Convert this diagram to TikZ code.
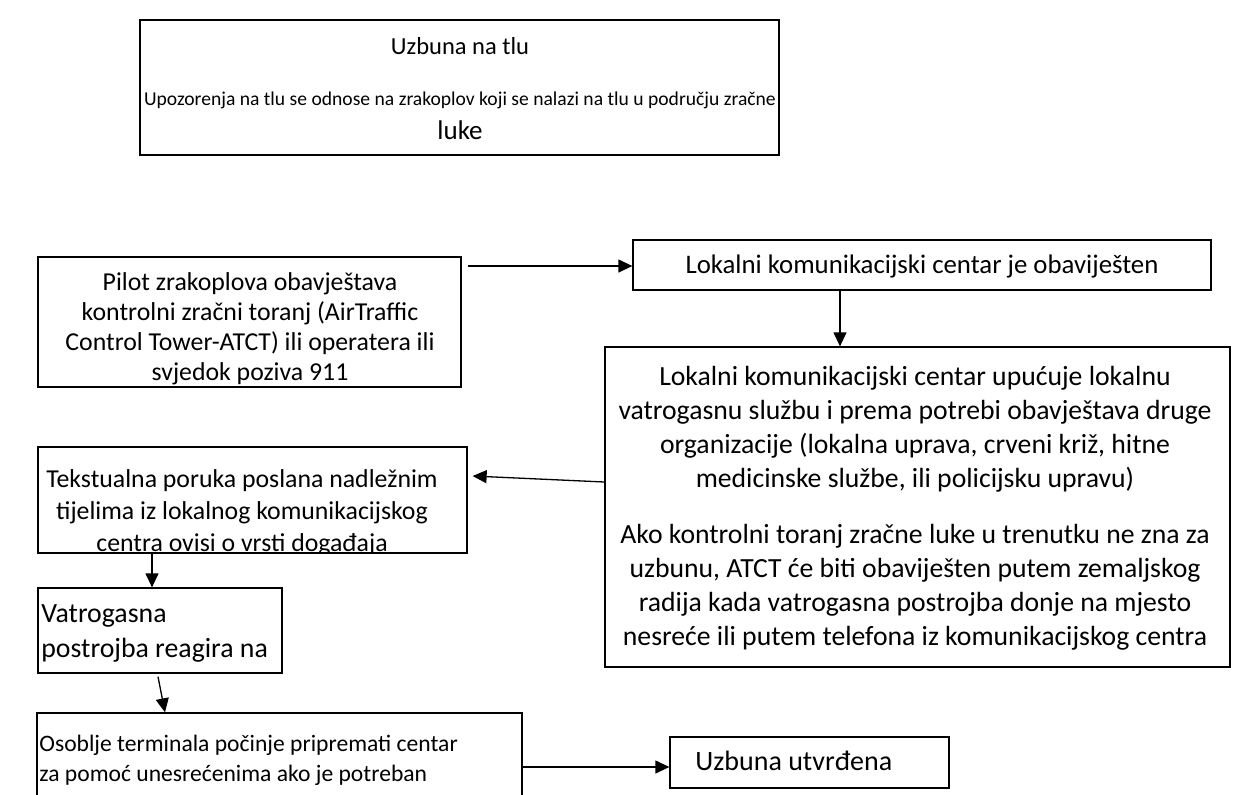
\documentclass[tikz,border=0pt]{standalone}
\usepackage{fontspec}
\setmainfont{Carlito}
\usepackage{tikz}
\usetikzlibrary{arrows.meta,positioning}
\tikzset{
  mybox/.style={draw,line width=0.65pt,inner sep=0pt},
  mytxt/.style={inner sep=0pt,anchor=base,align=center,
    font=\fontsize{12.9}{15}\selectfont},
  mylbl/.style={mytxt,align=left,anchor=base west},
  myarr/.style={line width=0.65pt,-{Triangle[length=7pt,width=6.5pt]}}
}

\begin{document}
\begin{tikzpicture}[x=0.5pt,y=-0.5pt]
  \useasboundingbox (0,0) rectangle (1260,794);
  % boxes
  \node[mybox,minimum width=319.5pt,minimum height=67.5pt] (naslov) at (459.5,87.5) {};
  \node[mybox,minimum width=211.5pt,minimum height=65pt] (pilot) at (249.5,322) {};
  \node[mybox,minimum width=289pt,minimum height=25pt] (lcobav) at (922,265) {};
  \node[mybox,minimum width=312.5pt,minimum height=160pt] (upucuje) at (917.5,507) {};
  \node[mybox,minimum width=214.5pt,minimum height=53pt] (poruka) at (252.5,500) {};
  \node[mybox,minimum width=122pt,minimum height=42.5pt] (vatro) at (160,630.5) {};
  \node[mybox,minimum width=242.5pt,minimum height=58.5pt] (osoblje) at (279.5,771.5) {};
  \node[mybox,minimum width=139.5pt,minimum height=25.5pt] (utvrd) at (809.5,762.5) {};
  % texts (base = last line)
  \node[mytxt,font=\fontsize{12.25}{15}\selectfont] (naslovA) at (460,54) {Uzbuna na tlu};
  \node[mytxt,font=\fontsize{9.8}{12}\selectfont] (naslovB) at (460,105)
    {Upozorenja na tlu se odnose na zrakoplov koji se nalazi na tlu u području zračne};
  \node[mytxt,font=\fontsize{13.5}{16}\selectfont] (naslovC) at (460,139) {luke};
  \node[mytxt] (pilotT) at (250,380)
    {Pilot zrakoplova obavještava\\kontrolni zračni toranj (AirTraffic\\Control Tower-ATCT) ili operatera ili\\svjedok poziva 911};
  \node[mytxt,font=\fontsize{13.4}{16}\selectfont] (lcobavT) at (922,273) {Lokalni komunikacijski centar je obaviješten};
  \node[mytxt,font=\fontsize{13.85}{17}\selectfont] (upucujeT) at (915,645)
    {Lokalni komunikacijski centar upućuje lokalnu\\vatrogasnu službu i prema potrebi obavještava druge\\organizacije (lokalna uprava, crveni križ, hitne\\medicinske službe, ili policijsku upravu)\\[11pt]
     Ako kontrolni toranj zračne luke u trenutku ne zna za\\uzbunu, ATCT će biti obaviješten putem zemaljskog\\radija kada vatrogasna postrojba donje na mjesto\\nesreće ili putem telefona iz komunikacijskog centra};
  \begin{scope}
    \clip (poruka.south west) rectangle (poruka.north east);
    \node[mytxt,font=\fontsize{12.9}{16}\selectfont] (porukaT) at (242,551)
      {Tekstualna poruka poslana nadležnim\\tijelima iz lokalnog komunikacijskog\\centra ovisi o vrsti događaja};
  \end{scope}
  \node[mylbl,font=\fontsize{13.9}{17.5}\selectfont] (vatroT) at (41,657) {Vatrogasna\\postrojba reagira na};
  \node[mylbl,font=\fontsize{11.8}{15}\selectfont] (osobljeT) at (39,781)
    {Osoblje terminala počinje pripremati centar\\za pomoć unesrećenima ako je potreban};
  \node[mylbl,font=\fontsize{14}{16}\selectfont] (utvrdT) at (695,770) {Uzbuna utvrđena};
  % arrows
  \draw[myarr] ([xshift=3pt,yshift=28pt]pilot.east) -- ([yshift=-0.5pt]lcobav.west);
  \draw[myarr] ([xshift=-41pt]lcobav.south) -- ([xshift=-41pt]lcobav.south |- upucuje.north);
  \draw[myarr] ([yshift=12.5pt]upucuje.west) -- ([xshift=2.5pt,yshift=12pt]poruka.east);
  \draw[myarr] ([xshift=-50.25pt]poruka.south) -- ([xshift=-50.25pt]poruka.south |- vatro.north);
  \draw[myarr] ([xshift=-1pt,yshift=-1.5pt]vatro.south) -- ([xshift=-57.25pt]osoblje.north);
  \draw[myarr] ([yshift=2.25pt]osoblje.east) -- ([yshift=-2.25pt]utvrd.west);
\end{tikzpicture}
\end{document}
